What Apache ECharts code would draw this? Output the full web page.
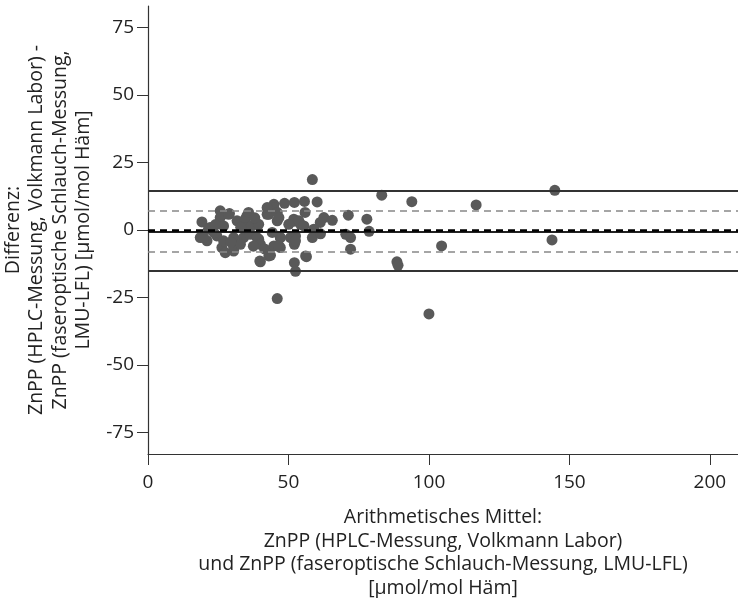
<!DOCTYPE html>
<html>
<head>
<meta charset="utf-8">
<script src="https://cdn.jsdelivr.net/npm/echarts@6/dist/echarts.min.js"></script>
<style>html,body{margin:0;padding:0;background:#fff}#c{width:738px;height:598px}</style>
</head>
<body>
<div id="c"></div>
<script>
// Mean values (x) of the two methods
const meanX = [19.2,25.7,29.0,21.5,18.6,21.0,26.3,27.5,30.5,35.2,39.4,39.8,43.0,42.4,44.8,46.0,47.1,44.8,47.1,48.6,
  52.1,52.5,52.1,52.1,52.5,46.0,58.5,55.7,60.2,55.9,51.8,54.3,62.6,65.6,61.3,71.3,77.9,78.7,83.2,93.9,
  59.0,58.5,61.4,70.4,72.1,72.1,56.4,88.6,89.0,104.5,116.8,144.8,143.8,100.0,
  22.1,19.8,24.5,26.9,30.5,34.0,30.5,32.9,25.7,28.7,31.7,26.9,34.6,35.2,
  35.8,43.0,44.8,46.0,46.6,42.4,51.9,53.7,50.1,55.5,37.0,39.4,36.4,38.8,40.0,47.1,46.6,50.7,52.5,44.2,
  40.0,43.6,56.1,23.5,33.0,29.5,38.0,41.5,24.0,37.5];
// Differences (y) of the two methods
const diffY = [3.0,7.1,6.1,0.3,-2.8,-4.0,-6.5,-8.4,-7.8,5.2,-3.4,-11.5,-9.6,5.8,9.5,3.4,-2.8,-5.9,-6.5,9.9,
  10.2,-2.2,-5.3,-12.1,-15.3,-25.4,18.7,10.6,10.4,6.5,3.2,2.1,4.6,3.6,2.8,5.5,4.0,-0.5,12.9,10.5,
  0.3,-2.8,-1.4,-1.6,-2.8,-7.1,-9.9,-11.8,-13.1,-5.9,9.3,14.7,-3.7,-31.1,
  0.9,-2.8,-2.2,-4.0,-2.8,-2.8,-6.5,-5.3,4.6,5.8,3.4,1.5,4.0,0.9,
  6.5,5.8,8.3,6.5,4.6,8.3,4.0,3.4,2.1,1.5,1.5,2.1,-1.6,-2.8,-5.3,-2.8,-5.9,-2.8,-4.0,-0.9,
  -11.8,-9.4,-9.6,-1.0,1.0,-4.5,4.5,-7.0,2.0,-6.0];
// Reference lines
const meanDiff = -0.5;
const loaUpper = 14.4, loaLower = -15.2;
const sdUpper = 7.2, sdLower = -8.0;
const zeroLine = 0;
const yTicks = [-75,-50,-25,0,25,50,75];
const xTicks = [0,50,100,150,200];

const pts = meanX.map((x,i)=>[x,diffY[i]]);
const font = '"Open Sans", "Noto Sans", sans-serif';
const chart = echarts.init(document.getElementById('c'));
chart.setOption({
  animation:false,
  grid:{left:148,top:6,right:0,bottom:144,containLabel:false,outerBoundsMode:'none'},
  xAxis:{type:'value',min:0,max:210,
    name:'Arithmetisches Mittel:\nZnPP (HPLC-Messung, Volkmann Labor)\nund ZnPP (faseroptische Schlauch-Messung, LMU-LFL)\n[µmol/mol Häm]',
    nameLocation:'middle',nameGap:52,
    nameTextStyle:{fontFamily:font,fontSize:19.5,color:'#222',lineHeight:23.5},
    axisLine:{onZero:false,lineStyle:{color:'#333',width:1.2}},
    axisTick:{show:true,length:11,lineStyle:{color:'#333'},customValues:xTicks},
    axisLabel:{fontFamily:font,fontSize:19,color:'#222',margin:19,customValues:xTicks},
    splitLine:{show:false}},
  yAxis:{type:'value',min:-83,max:83,
    name:'Differenz:\nZnPP (HPLC-Messung, Volkmann Labor) -\nZnPP (faseroptische Schlauch-Messung,\nLMU-LFL) [µmol/mol Häm]',
    nameLocation:'middle',nameGap:47,nameRotate:90,
    nameTextStyle:{fontFamily:font,fontSize:19.5,color:'#222',lineHeight:23.5},
    axisLine:{show:true,onZero:false,lineStyle:{color:'#333',width:1.2}},
    axisTick:{show:true,length:11,lineStyle:{color:'#333'},customValues:yTicks},
    axisLabel:{fontFamily:font,fontSize:19,color:'#222',margin:14,customValues:yTicks},
    splitLine:{show:false}},
  series:[{type:'scatter',data:pts,symbolSize:11,itemStyle:{color:'#595959',opacity:1},
    markLine:{silent:true,symbol:['none','none'],label:{show:false},animation:false,
      data:[
        {yAxis:loaUpper,lineStyle:{color:'#333',width:2,type:'solid'}},
        {yAxis:loaLower,lineStyle:{color:'#333',width:2,type:'solid'}},
        {yAxis:sdUpper,lineStyle:{color:'#888',width:1.5,type:[7,5]}},
        {yAxis:sdLower,lineStyle:{color:'#888',width:1.5,type:[7,5]}},
        {yAxis:meanDiff,lineStyle:{color:'#222',width:2,type:'solid'}},
        {yAxis:zeroLine,lineStyle:{color:'#000',width:2.5,type:[7,5]}}
      ]}}]
});
</script>
</body>
</html>
